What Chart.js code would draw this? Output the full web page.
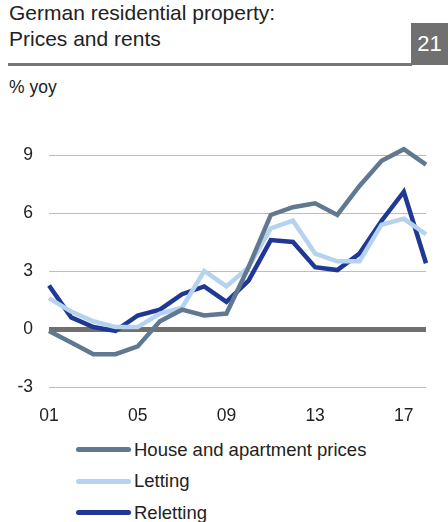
<!DOCTYPE html>
<html>
<head>
<meta charset="utf-8">
<script src="https://cdn.jsdelivr.net/npm/chart.js@4"></script>
<style>
  body { margin: 0; width: 448px; height: 522px; overflow: hidden; background: #fff;
         font-family: 'Liberation Sans', Arial, sans-serif; color: #222; position: relative; }
  #title { position: absolute; left: 9px; top: 0px; font-size: 21px; line-height: 26px; }
  #rule { position: absolute; left: 8px; top: 63px; width: 404px; height: 3px; background: #767676; }
  #num { position: absolute; left: 411px; top: 23px; width: 37px; height: 42px; background: #707070;
         color: #fff; font-size: 22px; line-height: 42px; text-align: center; }
  #unit { position: absolute; left: 9px; top: 77px; font-size: 17.5px; }
  #wrap { position: absolute; left: 0; top: 0; width: 448px; height: 430px; }
  #legend { position: absolute; left: 76px; top: 434px; font-size: 18.5px; }
  .item { display: flex; align-items: center; height: 31.5px; }
  .swatch { width: 55px; height: 5px; border-radius: 3px; margin-right: 3px; }
</style>
</head>
<body>
<div id="title">German residential property:<br>Prices and rents</div>
<div id="rule"></div>
<div id="num">21</div>
<div id="unit">% yoy</div>
<div id="wrap"><canvas id="chart"></canvas></div>
<div id="legend"></div>
<script>
const years = [2001, 2002, 2003, 2004, 2005, 2006, 2007, 2008, 2009, 2010, 2011, 2012, 2013, 2014, 2015, 2016, 2017, 2018]
const shownYears = ['01', '05', '09', '13', '17']

const housePrices = [-0.1, -0.7, -1.3, -1.3, -0.9, 0.4, 1.0, 0.7, 0.8, 3.2, 5.9, 6.3, 6.5, 5.9, 7.4, 8.7, 9.3, 8.5]
const letting = [1.6, 0.9, 0.4, 0.1, 0.1, 0.8, 1.1, 3.0, 2.2, 3.2, 5.2, 5.6, 3.9, 3.5, 3.5, 5.4, 5.7, 4.9]
const reletting = [2.25, 0.6, 0.1, -0.1, 0.7, 1.0, 1.8, 2.2, 1.4, 2.5, 4.6, 4.5, 3.2, 3.05, 3.9, 5.6, 7.1, 3.4]

const yTicks = [-3, 0, 3, 6, 9]

const series = [
    { label: 'House and apartment prices', data: housePrices, color: '#607890' },
    { label: 'Letting', data: letting, color: '#b5d2ef' },
    { label: 'Reletting', data: reletting, color: '#1f3894' }
]

const font = { family: "'Liberation Sans', Arial, sans-serif", size: 17.5 }

const data = {
    labels: years.map(y => String(y).slice(2)),
    datasets: series.map(s => ({
        label: s.label,
        data: s.data,
        borderColor: s.color,
        backgroundColor: s.color,
        borderWidth: 4.5,
        pointRadius: 0,
        tension: 0,
        clip: false
    }))
}

const options = {
    responsive: false,
    animation: false,
    layout: { padding: { top: 155, right: 22, left: 0, bottom: 0 } },
    plugins: {
        legend: { display: false },
        tooltip: { enabled: false }
    },
    scales: {
        x: {
            offset: false,
            grid: { display: false },
            border: { display: false },
            afterFit: scale => { scale.height = 43 },
            ticks: {
                autoSkip: false,
                maxRotation: 0,
                padding: 11,
                color: '#222',
                font,
                callback: function (value) {
                    const lbl = this.getLabelForValue(value)
                    return shownYears.includes(lbl) ? lbl : ''
                }
            }
        },
        y: {
            min: yTicks[0],
            max: yTicks[yTicks.length - 1],
            afterBuildTicks: scale => { scale.ticks = yTicks.map(v => ({ value: v })) },
            afterFit: scale => { scale.width = 49 },
            border: { display: false },
            grid: {
                drawTicks: false,
                color: ctx => ctx.tick && ctx.tick.value === 0 ? '#707070' : '#bdbdbd',
                lineWidth: ctx => ctx.tick && ctx.tick.value === 0 ? 5 : 1
            },
            ticks: { padding: 16, color: '#222', font }
        }
    }
}

const canvas = document.getElementById('chart')
canvas.width = 448
canvas.height = 430
new Chart(canvas, { type: 'line', data, options })

const legend = document.getElementById('legend')
series.forEach(s => {
    const item = document.createElement('div')
    item.className = 'item'
    item.innerHTML = `<span class="swatch" style="background:${s.color}"></span><span>${s.label}</span>`
    legend.appendChild(item)
})
</script>
</body>
</html>
